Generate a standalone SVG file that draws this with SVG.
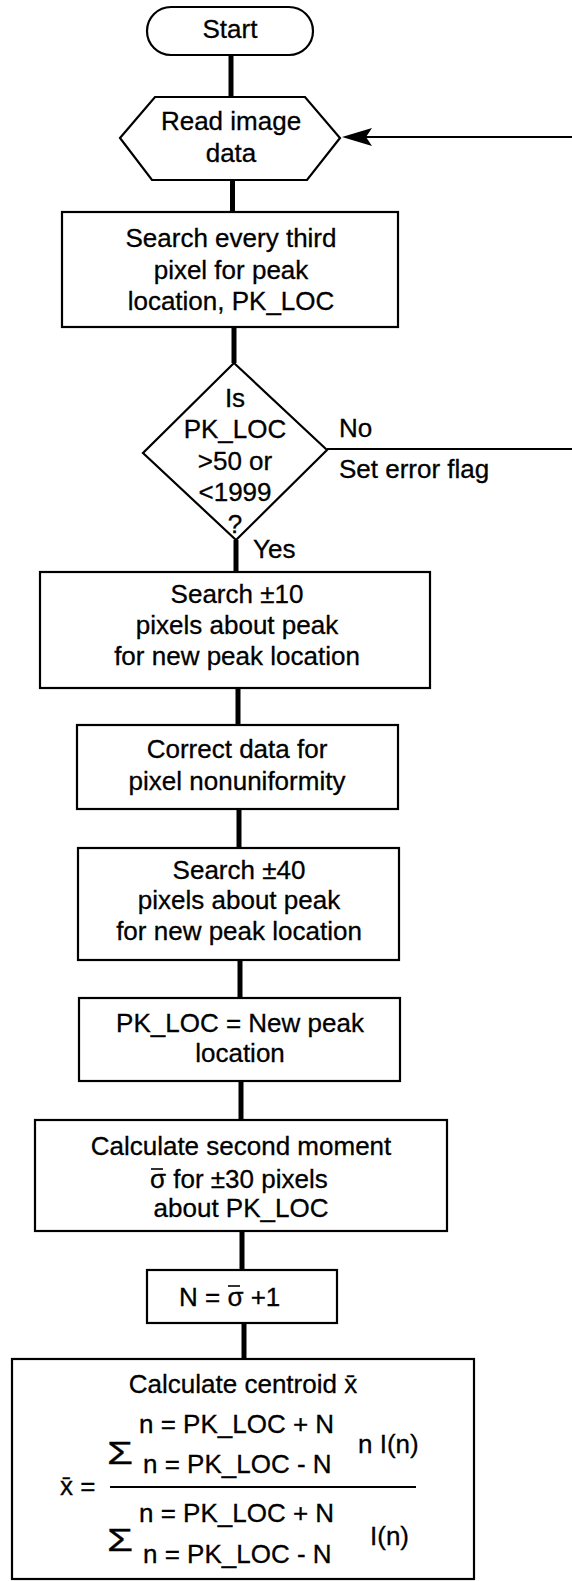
<svg xmlns="http://www.w3.org/2000/svg" width="572" height="1581" viewBox="0 0 572 1581">
<style>
.box{fill:#fff;stroke:#000;stroke-width:2.2}
.conn{fill:none;stroke:#000;stroke-width:5}
.thin{fill:none;stroke:#000;stroke-width:2}
.bar{stroke:#000;stroke-width:1.6}
text{font-family:"Liberation Sans",Arial,Helvetica,sans-serif;font-size:26px;fill:#000;stroke:#000;stroke-width:0.3}
.c{text-anchor:middle}
.sig{font-size:32px}
</style>
<rect width="572" height="1581" fill="#fff"/>
<g id="connectors">
<line class="conn" x1="231" y1="55" x2="231" y2="97"/>
<line class="conn" x1="232.5" y1="180" x2="232.5" y2="212"/>
<line class="conn" x1="234" y1="327" x2="234" y2="363"/>
<line class="conn" x1="236" y1="540" x2="236" y2="572"/>
<line class="conn" x1="238" y1="688" x2="238" y2="725"/>
<line class="conn" x1="239" y1="809" x2="239" y2="848"/>
<line class="conn" x1="240" y1="960" x2="240" y2="998"/>
<line class="conn" x1="241" y1="1081" x2="241" y2="1120"/>
<line class="conn" x1="242" y1="1231" x2="242" y2="1270"/>
<line class="conn" x1="244" y1="1323" x2="244" y2="1359"/>
<path class="thin" d="M327,449 H576 V137 H366"/>
<polygon points="342,137 372,128 366,137 372,146" fill="#000"/>
<text x="339" y="437">No</text>
<text x="339" y="478">Set error flag</text>
<text x="253" y="558">Yes</text>
</g>
<g id="start">
<rect class="box" x="147" y="7" width="166" height="48" rx="24"/>
<text class="c" x="230" y="38">Start</text>
</g>
<g id="read">
<polygon class="box" points="120,138 155,97 305,97 340,138 307,180 152,180"/>
<text class="c" x="231" y="130">Read image</text>
<text class="c" x="231" y="162">data</text>
</g>
<g id="search3">
<rect class="box" x="62" y="212" width="336" height="115"/>
<text class="c" x="231" y="247">Search every third</text>
<text class="c" x="231" y="279">pixel for peak</text>
<text class="c" x="231" y="310">location, PK_LOC</text>
</g>
<g id="decision">
<polygon class="box" points="234,363 327,450 236,540 143,453"/>
<text class="c" x="235" y="407">Is</text>
<text class="c" x="235" y="438">PK_LOC</text>
<text class="c" x="235" y="470">&gt;50 or</text>
<text class="c" x="235" y="501">&lt;1999</text>
<text class="c" x="235" y="533">?</text>
</g>
<g id="search10">
<rect class="box" x="40" y="572" width="390" height="116"/>
<text class="c" x="237" y="603">Search ±10</text>
<text class="c" x="237" y="634">pixels about peak</text>
<text class="c" x="237" y="665">for new peak location</text>
</g>
<g id="correct">
<rect class="box" x="77" y="725" width="321" height="84"/>
<text class="c" x="237" y="758">Correct data for</text>
<text class="c" x="237" y="790">pixel nonuniformity</text>
</g>
<g id="search40">
<rect class="box" x="78" y="848" width="321" height="112"/>
<text class="c" x="239" y="879">Search ±40</text>
<text class="c" x="239" y="909">pixels about peak</text>
<text class="c" x="239" y="940">for new peak location</text>
</g>
<g id="newpeak">
<rect class="box" x="79" y="998" width="321" height="83"/>
<text class="c" x="240" y="1032">PK_LOC = New peak</text>
<text class="c" x="240" y="1062">location</text>
</g>
<g id="moment">
<rect class="box" x="35" y="1120" width="412" height="111"/>
<text class="c" x="241" y="1155">Calculate second moment</text>
<text x="150" y="1188">σ for ±30 pixels</text>
<line class="bar" x1="151" y1="1169" x2="163" y2="1169"/>
<text class="c" x="241" y="1217">about PK_LOC</text>
</g>
<g id="nbox">
<rect class="box" x="147" y="1270" width="190" height="53"/>
<text x="179" y="1306">N = σ +1</text>
<line class="bar" x1="228" y1="1286" x2="240" y2="1286"/>
</g>
<g id="centroid">
<rect class="box" x="12" y="1359" width="462" height="220"/>
<text class="c" x="243" y="1393">Calculate centroid x̄</text>
<text x="60" y="1495">x̄ =</text>
<text class="sig" x="107" y="1464" textLength="26" lengthAdjust="spacingAndGlyphs">Σ</text>
<text x="139" y="1433">n = PK_LOC + N</text>
<text x="143" y="1473">n = PK_LOC - N</text>
<text x="358" y="1453">n I(n)</text>
<line class="thin" x1="110" y1="1487" x2="416" y2="1487"/>
<text class="sig" x="107" y="1551" textLength="26" lengthAdjust="spacingAndGlyphs">Σ</text>
<text x="139" y="1522">n = PK_LOC + N</text>
<text x="143" y="1563">n = PK_LOC - N</text>
<text x="370" y="1545">I(n)</text>
</g>
</svg>
